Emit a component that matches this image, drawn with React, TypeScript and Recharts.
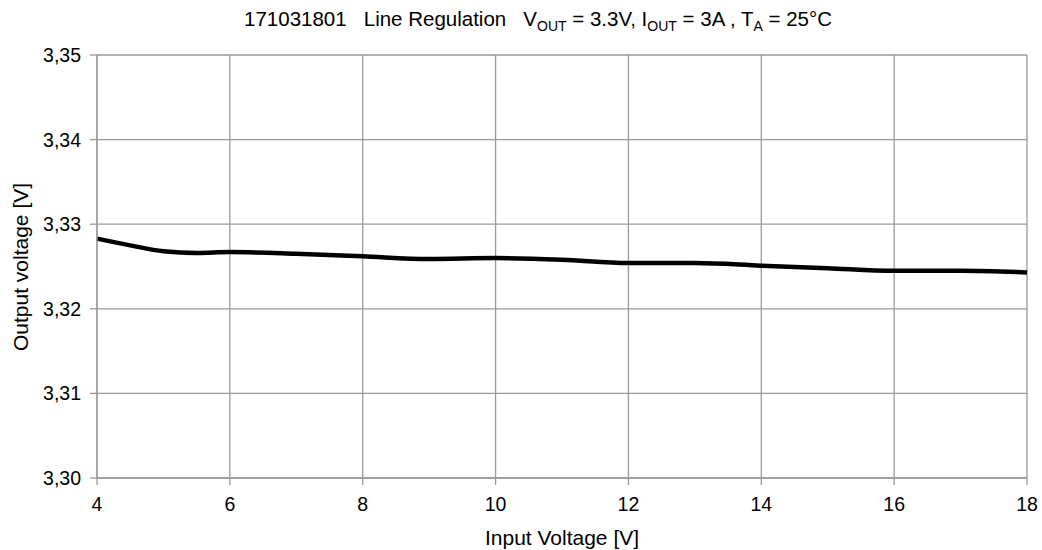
import React from 'react';
import { LineChart, Line, XAxis, YAxis, CartesianGrid, Customized } from 'recharts';

const inputVoltage = [4, 4.5, 5, 5.5, 6, 7, 8, 9, 10, 11, 12, 13, 14, 15, 16, 17, 18];
const outputVoltage = [3.3283, 3.3275, 3.3268, 3.3266, 3.3267, 3.3265, 3.3262, 3.3259, 3.326, 3.3258, 3.3254, 3.3254, 3.3251, 3.3248, 3.3245, 3.3245, 3.3243];
const xTicks = [4, 6, 8, 10, 12, 14, 16, 18];
const yTicks = [3.3, 3.31, 3.32, 3.33, 3.34, 3.35];

const data = inputVoltage.map((v, i) => ({ vin: v, vout: outputVoltage[i] }));

const FONT = '"Liberation Sans", Arial, Helvetica, sans-serif';
const GRID = '#9a9a9a';

function Texts() {
  return (
    <g fontFamily={FONT} fill="#000">
      <text x={538} y={26} textAnchor="middle" fontSize={20.5} style={{ whiteSpace: 'pre' }}>
        {'171031801   Line Regulation   V'}
        <tspan fontSize={14} dy={4.5}>OUT</tspan>
        <tspan dy={-4.5}>{' = 3.3V, I'}</tspan>
        <tspan fontSize={14} dy={4.5}>OUT</tspan>
        <tspan dy={-4.5}>{' = 3A , T'}</tspan>
        <tspan fontSize={14} dy={4.5}>A</tspan>
        <tspan dy={-4.5}>{' = 25°C'}</tspan>
      </text>
      <text x={562} y={545} textAnchor="middle" fontSize={21}>Input Voltage [V]</text>
      <text x={28} y={267} textAnchor="middle" fontSize={21} transform="rotate(-90 28 267)">Output voltage [V]</text>
    </g>
  );
}

export default function App() {
  return (
    <div style={{ position: 'absolute', left: 0, top: 0, width: 1042, height: 550, background: '#fff' }}>
      <LineChart width={1042} height={550} data={data} margin={{ top: 55, right: 15, bottom: 0, left: 0 }}>
        <CartesianGrid stroke={GRID} strokeWidth={1.3} />
        <XAxis
          dataKey="vin"
          type="number"
          domain={[4, 18]}
          ticks={xTicks}
          height={72}
          tickSize={7}
          tickMargin={12}
          axisLine={{ stroke: GRID, strokeWidth: 1.3 }}
          tickLine={{ stroke: GRID, strokeWidth: 1.3 }}
          tick={{ fill: '#000', fontSize: 19.5, fontFamily: FONT }}
          interval={0}
        />
        <YAxis
          type="number"
          domain={[3.3, 3.35]}
          ticks={yTicks}
          width={97}
          tickSize={7}
          tickMargin={9}
          axisLine={{ stroke: GRID, strokeWidth: 1.3 }}
          tickLine={{ stroke: GRID, strokeWidth: 1.3 }}
          tick={{ fill: '#000', fontSize: 19.5, fontFamily: FONT }}
          tickFormatter={(v: number) => v.toFixed(2).replace('.', ',')}
          interval={0}
          allowDataOverflow
        />
        <Line
          dataKey="vout"
          type="monotone"
          stroke="#000"
          strokeWidth={4.5}
          dot={false}
          isAnimationActive={false}
        />
        <Customized component={<Texts />} />
      </LineChart>
    </div>
  );
}
